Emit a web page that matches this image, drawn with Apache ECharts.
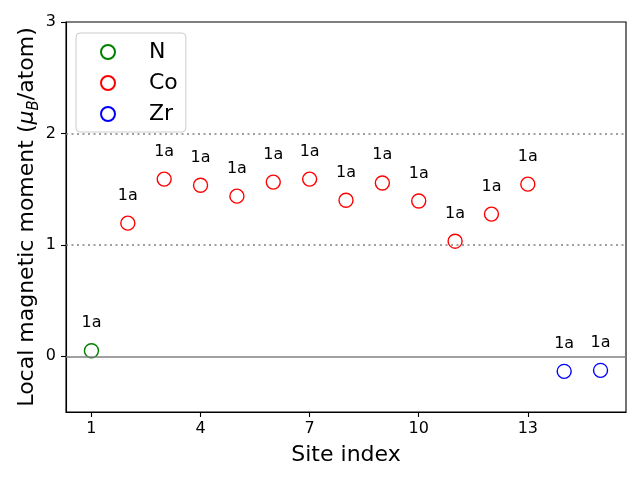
<!DOCTYPE html>
<html>
<head>
<meta charset="utf-8">
<script src="https://cdn.jsdelivr.net/npm/echarts@6/dist/echarts.min.js"></script>
<style>html,body{margin:0;padding:0;background:#fff}#c{width:640px;height:480px}</style>
</head>
<body>
<div id="c"></div>
<script>
const nSites = [1];
const nMoments = [0.05];
const coSites = [2, 3, 4, 5, 6, 7, 8, 9, 10, 11, 12, 13];
const coMoments = [1.195, 1.59, 1.535, 1.437, 1.563, 1.59, 1.40, 1.555, 1.393, 1.033, 1.276, 1.545];
const zrSites = [14, 15];
const zrMoments = [-0.135, -0.126];
const siteLabel = '1a';
const xTicks = [1, 4, 7, 10, 13];
const yTicks = [0, 1, 2, 3];

const FONT = 'DejaVu Sans';
function pts(xs, ys) { return xs.map((x, i) => [x, ys[i]]); }
function scat(name, color, data, extra) {
  return Object.assign({
    name: name,
    type: 'scatter',
    symbol: 'circle',
    symbolSize: 14,
    data: data,
    itemStyle: { color: 'rgba(255,255,255,0)', borderColor: color, borderWidth: 1.4, opacity: 1 },
    emphasis: { disabled: true },
    label: {
      show: true, position: 'top', distance: 12,
      formatter: siteLabel, color: '#000', fontFamily: FONT, fontSize: 16
    },
    z: 3
  }, extra || {});
}

// legend handle: circle (d=14) offset inside a wider handle box
const legendIcon = 'path://M0,0M15,7A7,7,0,1,1,29,7A7,7,0,1,1,15,7ZM58,14';

const chart = echarts.init(document.getElementById('c'), null, { renderer: 'canvas' });
chart.setOption({
  animation: false,
  backgroundColor: '#fff',
  grid: { left: 66, right: 14, top: 22, bottom: 68, containLabel: false, outerBoundsMode: 'none', show: true, borderColor: '#000', borderWidth: 1.1, backgroundColor: 'transparent' },
  legend: {
    show: true,
    left: 76, top: 33, orient: 'vertical',
    padding: [8, 8, 7, 9],
    itemGap: 9, itemWidth: 58, itemHeight: 14,
    borderColor: '#cccccc', borderWidth: 1, borderRadius: 4,
    backgroundColor: 'rgba(255,255,255,0.8)',
    icon: legendIcon,
    symbolKeepAspect: true,
    textStyle: { fontFamily: FONT, fontSize: 22, color: '#000' },
    data: ['N', 'Co', 'Zr']
  },
  xAxis: {
    type: 'value', min: 0.3, max: 15.7,
    name: 'Site index', nameLocation: 'middle', nameGap: 32, nameMoveOverlap: false,
    nameTextStyle: { fontFamily: FONT, fontSize: 22, color: '#000', verticalAlign: 'top' },
    axisLine: { show: true, onZero: false, lineStyle: { color: '#000', width: 1.1 } },
    axisTick: { show: true, length: 5, customValues: xTicks, lineStyle: { color: '#000', width: 1.1 } },
    axisLabel: { customValues: xTicks, margin: 9, fontFamily: FONT, fontSize: 16, color: '#000' },
    splitLine: { show: false }
  },
  yAxis: {
    type: 'value', min: -0.5, max: 3,
    name: '{a|Local magnetic moment (}{i|μ}{s|B}{a|/atom)}',
    nameLocation: 'middle', nameGap: 24, nameMoveOverlap: false,
    nameTextStyle: {
      fontFamily: FONT, fontSize: 22, color: '#000',
      rich: {
        a: { fontFamily: FONT, fontSize: 22, color: '#000', lineHeight: 30, verticalAlign: 'middle' },
        i: { fontFamily: FONT, fontSize: 22, fontStyle: 'italic', color: '#000', lineHeight: 30, verticalAlign: 'middle' },
        s: { fontFamily: FONT, fontSize: 15, fontStyle: 'italic', color: '#000', lineHeight: 30, verticalAlign: 'bottom' }
      }
    },
    axisLine: { show: true, onZero: false, lineStyle: { color: '#000', width: 1.1 } },
    axisTick: { show: true, length: 5, customValues: yTicks, lineStyle: { color: '#000', width: 1.1 } },
    axisLabel: { customValues: yTicks, margin: 10, fontFamily: FONT, fontSize: 16, color: '#000' },
    splitLine: { show: false }
  },
  series: [
    scat('N', '#008000', pts(nSites, nMoments), {
      markLine: {
        silent: true, symbol: 'none', label: { show: false },
        emphasis: { disabled: true },
        data: [
          { yAxis: 0, lineStyle: { color: '#808080', width: 1.5, type: 'solid' } },
          { yAxis: 1, lineStyle: { color: '#808080', width: 1.5, type: [2, 3.5] } },
          { yAxis: 2, lineStyle: { color: '#808080', width: 1.5, type: [2, 3.5] } }
        ]
      }
    }),
    scat('Co', '#ff0000', pts(coSites, coMoments)),
    scat('Zr', '#0000ff', pts(zrSites, zrMoments))
  ]
});
</script>
</body>
</html>
